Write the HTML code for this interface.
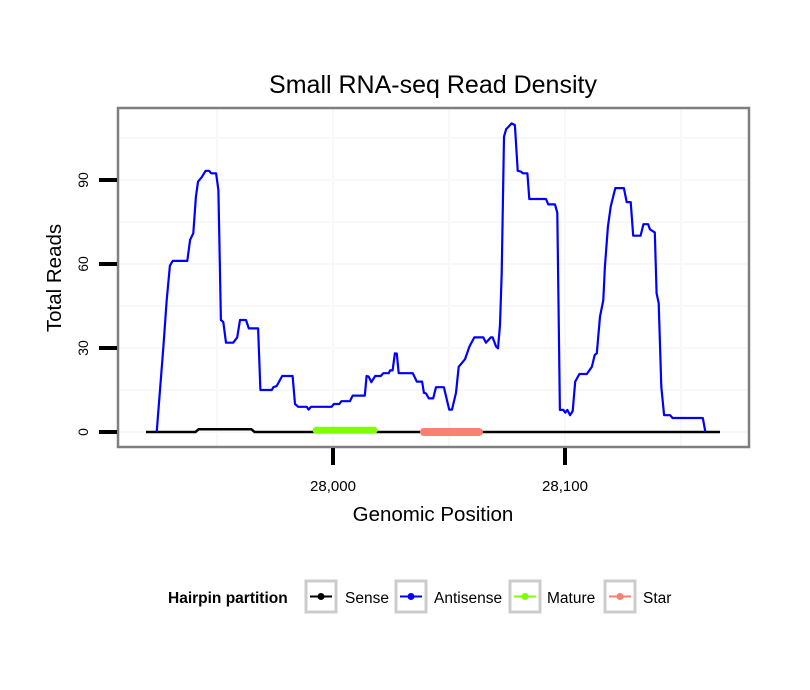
<!DOCTYPE html>
<html><head><meta charset="utf-8"><style>
html,body{margin:0;padding:0;background:#fff}
svg{display:block;font-family:"Liberation Sans",sans-serif}
</style></head><body>
<svg id="chart" width="810" height="690" viewBox="0 0 810 690" xmlns="http://www.w3.org/2000/svg">
<rect width="810" height="690" fill="#fff"/>
<text x="433" y="93" font-size="25" text-anchor="middle" fill="#000">Small RNA-seq Read Density</text>
<g id="grid"></g>
<g id="marks"></g>
<rect x="118" y="108" width="631" height="339" fill="none" stroke="#7f7f7f" stroke-width="2.5"/>
<g id="axes"></g>
<text x="433" y="521" font-size="20.5" text-anchor="middle">Genomic Position</text>
<text transform="translate(61,278) rotate(-90)" font-size="20.5" text-anchor="middle">Total Reads</text>
<g id="legend">
<text x="168" y="603" font-size="15.5" font-weight="bold">Hairpin partition</text>
</g>
</svg>
<script>
// ---- data ----
var antisensePos = [27924.0,27926.9,27928.3,27929.7,27930.9,27937.2,27938.4,27939.8,27940.9,27941.8,27943.4,27945.1,27946.6,27947.5,27949.6,27950.6,27951.7,27952.7,27953.9,27957.0,27958.7,27959.9,27962.5,27963.7,27967.7,27968.7,27973.6,27974.3,27975.7,27978.1,27982.6,27983.6,27985.0,27988.7,27989.5,27990.5,27999.4,28000.4,28002.7,28003.6,28007.3,28008.5,28013.7,28014.5,28015.4,28016.5,28018.2,28020.6,28021.7,28024.0,28024.6,28025.7,28026.7,28027.5,28028.3,28034.4,28036.1,28038.4,28039.2,28040.1,28041.3,28043.2,28044.4,28047.8,28050.1,28051.3,28053.0,28054.2,28056.9,28058.8,28060.9,28064.8,28065.9,28068.0,28068.8,28070.3,28071.1,28072.0,28072.7,28073.7,28074.6,28077.0,28078.4,28079.6,28081.0,28081.8,28083.8,28084.6,28091.8,28092.8,28095.7,28096.7,28097.8,28099.3,28100.1,28101.0,28102.2,28103.3,28104.4,28106.2,28109.4,28111.6,28112.8,28113.7,28115.1,28116.5,28117.2,28118.5,28119.7,28121.7,28125.4,28126.6,28128.3,28129.4,28132.6,28133.8,28135.8,28136.6,28138.7,28139.5,28140.4,28141.5,28142.7,28145.3,28146.4,28159.4,28160.5];
var antisenseReads = [0,30.5,47.1,59.4,61.1,61.1,68.6,71.0,84.0,89.4,91.0,93.3,93.3,92.4,92.4,86.4,40,39.3,31.9,31.9,33.8,40,40,37,37,15,15,16,16.4,20,20,10,9,9,8,9,9,10,10,11,11,13,13,20,19.8,17.8,20,20,21,21,22,22,28.1,28,21,21,18,18,14,13.8,12,12,16,16,8,8,14,23.3,26,30.5,33.8,33.8,31.9,33.8,33.8,30.5,29.9,38.2,56.7,105.5,108.1,110.2,109.6,93.3,93,92.4,92.4,83.2,83.2,81.3,81.3,78.3,7.9,7.9,6.9,7.9,6,7.5,18,20.7,20.7,23.3,27.5,28.1,41.2,47.1,59,73.3,80.5,87.1,87.1,82.1,82.1,70.1,70.1,74.2,74.2,72.4,71.3,49.5,46,16.2,6,6,5,5,0];
var sensePos = [27919.4,27940.7,27942.1,27964.8,27966.2,28166.8];
var senseReads = [0,0,1,1,0,0];
var maturePos = [27992.7,28017.7];
var matureReads = [0.6,0.6];
var starPos = [28039.2,28062.9];
var starReads = [0,0];
var xTicks = [28000,28100];
var xTickLabels = ["28,000","28,100"];
var xMinor = [27950,28050,28150];
var yTicks = [0,30,60,90];
var yTickLabels = ["0","30","60","90"];
var yMinor = [15,45,75,105];
var legendLabels = ["Sense","Antisense","Mature","Star"];
var legendColors = ["#000000","#0000ff","#7fff00","#fa8072"];

// ---- scales ----
function sx(v){return 333+(v-28000)*2.32;}
function sy(v){return 432-v*2.8;}
var NS="http://www.w3.org/2000/svg";
function mk(tag,parent,attrs){var e=document.createElementNS(NS,tag);for(var k in attrs)e.setAttribute(k,attrs[k]);parent.appendChild(e);return e;}

var grid=document.getElementById('grid');
mk('rect',grid,{x:118,y:108,width:631,height:339,fill:'#fff'});
xMinor.concat(xTicks).forEach(function(v){
  var l=mk('line',grid,{x1:sx(v),x2:sx(v),y1:109,y2:446,stroke:'#f8f8f8','stroke-width':2});
  
  
});
yMinor.concat(yTicks).forEach(function(v){
  var l=mk('line',grid,{x1:119,x2:748,y1:sy(v),y2:sy(v),stroke:'#f8f8f8','stroke-width':2});
  
  
});

var marks=document.getElementById('marks');
function series(xs,ys,color,w,name,cap){
  var d=xs.map(function(x,i){return (i?'L':'M')+sx(x).toFixed(1)+','+sy(ys[i]).toFixed(1);}).join('');
  var p=mk('path',marks,{d:d,fill:'none',stroke:color,'stroke-width':w,'stroke-linejoin':'round','stroke-linecap':cap||'butt'});
  
  
}
series(sensePos,senseReads,'#000',2.5,'sense-line');
series(maturePos,matureReads,'#7fff00',7,'mature-line','round');
series(starPos,starReads,'#fa8072',8,'star-line','round');
series(antisensePos,antisenseReads,'#0000ff',2.2,'antisense-line');

var axes=document.getElementById('axes');
yTicks.forEach(function(v,i){
  var t=mk('line',axes,{x1:99,x2:117,y1:sy(v),y2:sy(v),stroke:'#000','stroke-width':4});
  
  
  var tx=mk('text',axes,{transform:'translate(88,'+sy(v)+') rotate(-90)','font-size':14,'text-anchor':'middle'});
  tx.textContent=yTickLabels[i];
  
  
});
xTicks.forEach(function(v,i){
  var t=mk('line',axes,{x1:sx(v),x2:sx(v),y1:448,y2:465,stroke:'#000','stroke-width':4});
  
  
  var tx=mk('text',axes,{x:sx(v),y:491,'font-size':15,'text-anchor':'middle'});
  tx.textContent=xTickLabels[i];
  
  
});

var legend=document.getElementById('legend');
var boxX=[306,396,510,605], textX=[345,434,547,643];
legendLabels.forEach(function(lab,i){
  var g=mk('g',legend,{});
  
  
  mk('rect',g,{x:boxX[i],y:581,width:30,height:31,fill:'#fff',stroke:'#cccccc','stroke-width':3});
  mk('line',g,{x1:boxX[i]+4,x2:boxX[i]+26,y1:596.5,y2:596.5,stroke:legendColors[i],'stroke-width':2});
  mk('circle',g,{cx:boxX[i]+15,cy:596.5,r:3.5,fill:legendColors[i]});
  var t=mk('text',g,{x:textX[i],y:603,'font-size':15.5});
  t.textContent=lab;
});
</script>
</body></html>
